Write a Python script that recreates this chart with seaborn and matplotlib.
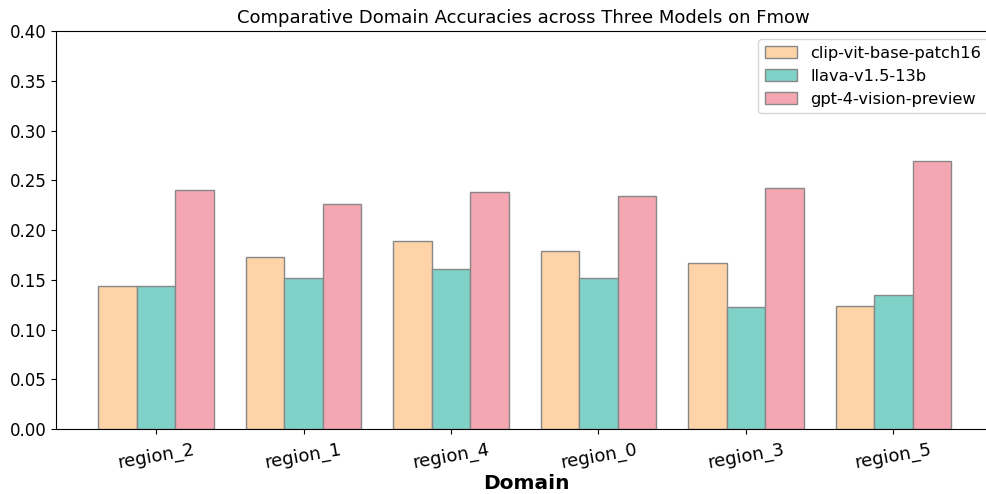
import matplotlib
matplotlib.use("Agg")
import matplotlib.pyplot as plt
import seaborn as sns
import pandas as pd

# Domain accuracies
domains = ["region_2", "region_1", "region_4", "region_0", "region_3", "region_5"]
models = ["clip-vit-base-patch16", "llava-v1.5-13b", "gpt-4-vision-preview"]
clip_acc = [0.144, 0.173, 0.189, 0.179, 0.167, 0.124]
llava_acc = [0.144, 0.152, 0.161, 0.152, 0.123, 0.135]
gpt_acc = [0.240, 0.226, 0.238, 0.234, 0.242, 0.269]
colors = ["#FED3A8", "#80D1C8", "#F4A6B2"]

rows = []
for model, values in zip(models, [clip_acc, llava_acc, gpt_acc]):
    for domain, value in zip(domains, values):
        rows.append({"Domain": domain, "Model": model, "Accuracy": value})
df = pd.DataFrame(rows)

fig = plt.figure(figsize=(9.86, 4.94), dpi=100)
# axes runs slightly past the right edge of the figure, as in the reference
ax = fig.add_axes([56 / 986, 65 / 494, 940 / 986, 398 / 494])

sns.barplot(
    data=df,
    x="Domain",
    y="Accuracy",
    hue="Model",
    order=domains,
    hue_order=models,
    palette=colors,
    saturation=1,
    edgecolor="#888888",
    linewidth=1,
    width=0.78,
    ax=ax,
)

ax.set_xlim(-0.678, 5.695)
ax.set_ylim(0, 0.40)
ax.set_yticks([0.0, 0.05, 0.10, 0.15, 0.20, 0.25, 0.30, 0.35, 0.40])
ax.set_yticklabels([f"{t:.2f}" for t in ax.get_yticks()], fontsize=12)
ax.tick_params(axis="x", labelsize=13, labelrotation=10, pad=5)
ax.set_xlabel("Domain", fontsize=14.5, fontweight="bold", labelpad=1)
ax.set_ylabel("")
ax.set_title("Comparative Domain Accuracies across Three Models on Fmow", fontsize=13,
             x=(523 - 56) / 940)
ax.legend(loc="upper right", fontsize=11.7, title=None, labelspacing=0.5)

fig.savefig("out.png", dpi=100)
